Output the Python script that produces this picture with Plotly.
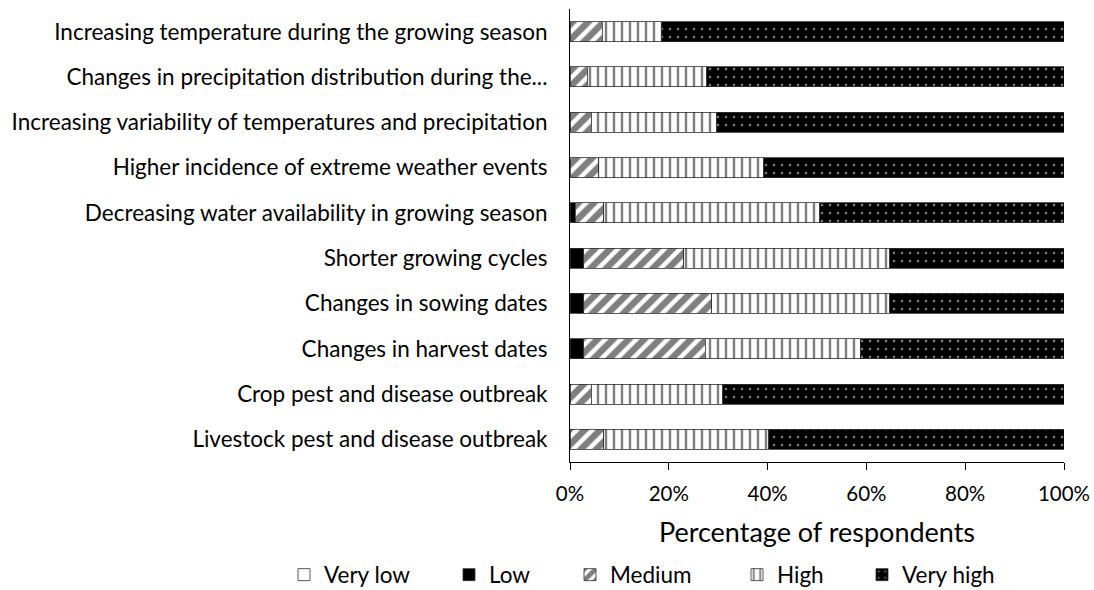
import plotly.graph_objects as go

categories = [
    "Increasing temperature during the growing season",
    "Changes in precipitation distribution during the...",
    "Increasing variability of temperatures and precipitation",
    "Higher incidence of extreme weather events",
    "Decreasing water availability in growing season",
    "Shorter growing cycles",
    "Changes in sowing dates",
    "Changes in harvest dates",
    "Crop pest and disease outbreak",
    "Livestock pest and disease outbreak",
]

very_low = [0, 0, 0, 0, 0, 0, 0, 0, 0, 0]
low = [0, 0, 0, 0, 1.1, 2.8, 2.8, 2.8, 0, 0]
medium = [6.5, 3.5, 4.3, 5.8, 5.7, 20.2, 25.9, 24.6, 4.3, 6.8]
high = [12.1, 24.2, 25.4, 33.4, 43.8, 41.7, 36.0, 31.4, 26.6, 33.4]
very_high = [81.4, 72.3, 70.3, 60.8, 49.4, 35.3, 35.3, 41.2, 69.1, 59.8]

series_names = ["Very low", "Low", "Medium", "High", "Very high"]
tick_vals = [0, 0.2, 0.4, 0.6, 0.8, 1.0]

FONT = "Lato"
FS = 22.5

W, H = 1094, 590

styles = {
    "Very low": dict(color="white", pattern=dict(shape="")),
    "Low": dict(color="black", pattern=dict(shape="")),
    "Medium": dict(color="white", pattern=dict(shape="/", fgcolor="black", bgcolor="white",
                                               size=11, solidity=0.6, fillmode="overlay")),
    "High": dict(color="white", pattern=dict(shape="|", fgcolor="black", bgcolor="white",
                                             size=8, solidity=0.3, fillmode="overlay")),
    "Very high": dict(color="black", pattern=dict(shape=".", fgcolor="white", bgcolor="black",
                                                  size=8, solidity=0.08, fillmode="overlay")),
}

legend_ids = ["legend", "legend2", "legend3", "legend4", "legend5"]
legend_left_px = [284, 449, 570, 737, 862]

fig = go.Figure()
for name, vals, lid in zip(series_names, [very_low, low, medium, high, very_high], legend_ids):
    st = styles[name]
    fig.add_trace(go.Bar(
        name=name,
        y=categories,
        x=[v / 100 for v in vals],
        orientation="h",
        legend=lid,
        marker=dict(color=st["color"], pattern=st["pattern"],
                    line=dict(color="#303030", width=0.8)),
    ))

layout_legends = {}
for lid, px in zip(legend_ids, legend_left_px):
    layout_legends[lid] = dict(
        orientation="h",
        xref="container", yref="container",
        x=px / W, y=1 - 575 / H, xanchor="left", yanchor="middle",
        font=dict(family=FONT, size=FS),
        bgcolor="rgba(0,0,0,0)",
    )

fig.update_layout(
    barmode="stack",
    bargap=0.56,
    width=W,
    height=H,
    margin=dict(l=569.5, r=29.5, t=9, b=128.4, autoexpand=False),
    plot_bgcolor="white",
    paper_bgcolor="white",
    font=dict(family=FONT, size=FS, color="black"),
    showlegend=True,
    xaxis=dict(
        range=[0, 1],
        tickvals=tick_vals,
        tickformat=".0%",
        tickfont=dict(size=20.5),
        showgrid=False,
        zeroline=False,
        showline=True,
        linecolor="black",
        linewidth=1,
        ticks="outside",
        ticklen=7,
        tickcolor="black",
        automargin=False,
        ticklabelstandoff=6,
        title=dict(text="Percentage of respondents", standoff=19),
    ),
    yaxis=dict(
        categoryorder="array",
        categoryarray=categories,
        autorange="reversed",
        showgrid=False,
        showline=True,
        linecolor="black",
        linewidth=1,
        ticks="",
        automargin=False,
        ticklabelstandoff=17,
    ),
    **layout_legends,
)

fig.write_html(
    "out.html",
    config={"displayModeBar": False},
    post_script="document.body.style.margin='0';document.body.style.overflow='hidden';",
)
